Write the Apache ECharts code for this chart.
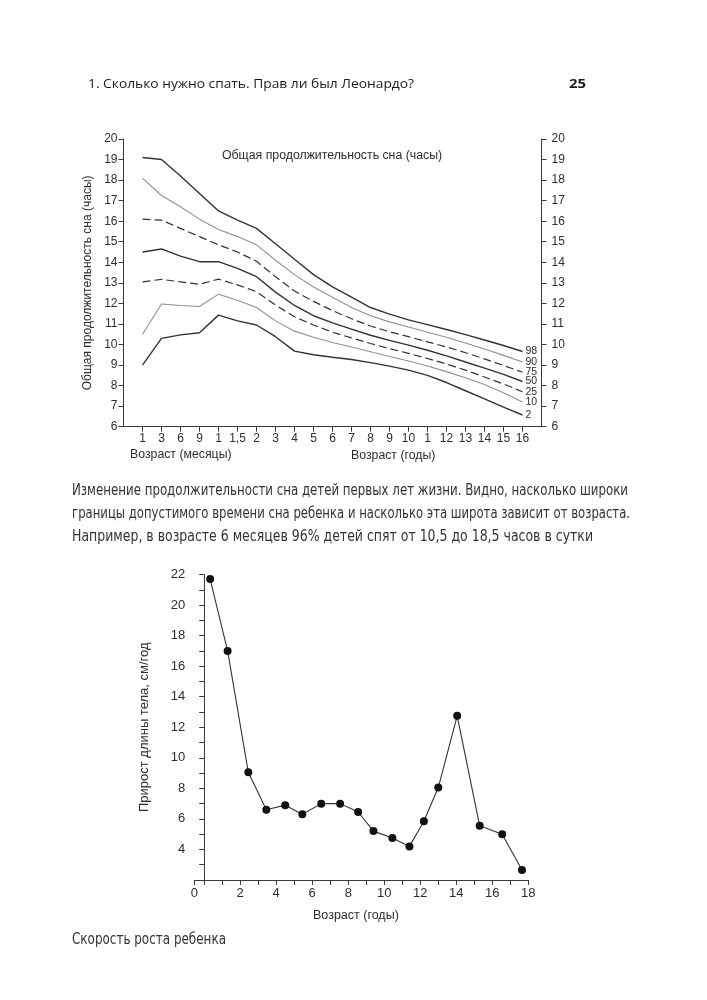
<!DOCTYPE html>
<html>
<head>
<meta charset="utf-8">
<script src="https://cdn.jsdelivr.net/npm/echarts@6/dist/echarts.min.js"></script>
<style>
  html, body { margin: 0; padding: 0; background: #fff; }
  #page { position: relative; width: 707px; height: 1000px; overflow: hidden; background: #fff; }
  #chart { position: absolute; left: 0; top: 0; width: 707px; height: 1000px; }
  .t { position: absolute; white-space: nowrap; transform-origin: 0 50%; line-height: 1; }
  .hdr { font-family: "Open Sans", "Noto Sans", sans-serif; font-size: 13px; color: #1a1a1a; }
  .cap { font-family: "Liberation Sans Narrow", "DejaVu Sans Condensed", "Roboto", sans-serif; font-stretch: condensed; font-size: 15px; color: #333; }
</style>
</head>
<body>
<div id="page">
  <div id="chart"></div>
  <div class="t hdr" data-w="326" style="left:88px; top:77px;">1. Сколько нужно спать. Прав ли был Леонардо?</div>
  <div class="t hdr" data-w="17" style="left:569px; top:77px; font-weight:bold;">25</div>
  <div class="t cap" data-w="556" style="left:72px; top:483px;">Изменение продолжительности сна детей первых лет жизни. Видно, насколько широки</div>
  <div class="t cap" data-w="558" style="left:72px; top:506px;">границы допустимого времени сна ребенка и насколько эта широта зависит от возраста.</div>
  <div class="t cap" data-w="521" style="left:72px; top:529px;">Например, в возрасте 6 месяцев 96% детей спят от 10,5 до 18,5 часов в сутки</div>
  <div class="t cap" data-w="154" style="left:72px; top:932px;">Скорость роста ребенка</div>
</div>
<script>
// ---------- Top chart data: total sleep duration percentiles (hours) ----------
const ageLabels = ['', '1', '3', '6', '9', '1', '1,5', '2', '3', '4', '5', '6', '7', '8', '9', '10', '1', '12', '13', '14', '15', '16', ''];
const p98 = [19.1, 19.0, 18.2, 17.35, 16.5, 16.05, 15.65, 14.9, 14.15, 13.4, 12.8, 12.3, 11.8, 11.48, 11.2, 10.97, 10.73, 10.48, 10.22, 9.95, 9.66];
const p90 = [18.1, 17.25, 16.7, 16.1, 15.6, 15.25, 14.85, 14.1, 13.4, 12.8, 12.3, 11.8, 11.4, 11.1, 10.85, 10.6, 10.35, 10.07, 9.78, 9.47, 9.15];
const p75 = [16.1, 16.05, 15.65, 15.25, 14.85, 14.5, 14.05, 13.3, 12.6, 12.1, 11.65, 11.25, 10.9, 10.62, 10.38, 10.13, 9.88, 9.6, 9.3, 8.98, 8.65];
const p50 = [14.5, 14.65, 14.3, 14.03, 14.03, 13.7, 13.3, 12.55, 11.9, 11.4, 11.05, 10.75, 10.45, 10.2, 9.97, 9.72, 9.45, 9.15, 8.85, 8.55, 8.2];
const p25 = [13.05, 13.17, 13.05, 12.93, 13.18, 12.9, 12.57, 11.92, 11.35, 10.95, 10.6, 10.32, 10.05, 9.8, 9.57, 9.32, 9.05, 8.75, 8.42, 8.08, 7.7];
const p10 = [10.5, 11.97, 11.9, 11.85, 12.45, 12.15, 11.8, 11.15, 10.65, 10.35, 10.1, 9.88, 9.65, 9.42, 9.2, 8.95, 8.68, 8.38, 8.05, 7.65, 7.2];
const p02 = [9.0, 10.3, 10.47, 10.57, 11.43, 11.15, 10.95, 10.38, 9.68, 9.5, 9.38, 9.27, 9.12, 8.95, 8.75, 8.5, 8.15, 7.75, 7.35, 6.95, 6.57];

// ---------- Bottom chart data: growth velocity (cm/year) ----------
const growthAge = [0.33, 1.3, 2.45, 3.45, 4.5, 5.45, 6.5, 7.55, 8.55, 9.4, 10.45, 11.4, 12.2, 13.0, 14.05, 15.3, 16.55, 17.65];
const growthRate = [21.7, 17.0, 9.05, 6.6, 6.9, 6.3, 7.0, 7.0, 6.45, 5.2, 4.75, 4.2, 5.85, 8.05, 12.75, 5.55, 5.0, 2.65];

const FONT = '"Liberation Sans", Arial, sans-serif';
const TXT = '#2e2e2e';
const AX = '#3a3a3a';
const DARK = '#333333';
const LIGHT = '#909090';

function pct(name, arr, color, width, dashed) {
  return {
    type: 'line', name: name, xAxisIndex: 0, yAxisIndex: 0,
    data: [null].concat(arr),
    symbol: 'none', smooth: false, silent: true,
    lineStyle: { color: color, width: width, type: dashed ? [8, 4] : 'solid' },
    endLabel: { show: true, formatter: name, fontSize: 10.5, color: TXT, fontFamily: FONT, distance: 3 }
  };
}

const chart = echarts.init(document.getElementById('chart'), null, { renderer: 'canvas' });
const axisCommon = {
  axisLine: { show: true, lineStyle: { color: AX, width: 1 } },
  axisTick: { show: true, inside: false, length: 5, lineStyle: { color: AX, width: 1 } },
  splitLine: { show: false }
};

chart.setOption({
  animation: false,
  backgroundColor: 'transparent',
  textStyle: { fontFamily: FONT },
  grid: [
    { left: 123.5, top: 139, width: 418, height: 287.7 },
    { left: 194.3, top: 574.5, width: 334, height: 305.5 }
  ],
  xAxis: [
    Object.assign({}, axisCommon, {
      gridIndex: 0, type: 'category', data: ageLabels, boundaryGap: false,
      axisTick: { show: true, length: 5, interval: function (i) { return i > 0 && i < ageLabels.length - 1; }, lineStyle: { color: AX } },
      axisLabel: { interval: 0, fontSize: 12, color: TXT, margin: 6, fontFamily: FONT }
    }),
    Object.assign({}, axisCommon, {
      gridIndex: 1, type: 'value', min: -0.55, max: 18, splitNumber: 18,
      axisLabel: {
        fontSize: 13, color: TXT, margin: 7, fontFamily: FONT, showMinLabel: true, showMaxLabel: true,
        formatter: function (v) { if (v < 0) return '0'; if (v > 0 && Math.abs(v % 2) < 1e-9) return String(v); return ''; }
      }
    })
  ],
  yAxis: [
    Object.assign({}, axisCommon, {
      gridIndex: 0, type: 'value', min: 6, max: 20, interval: 1, position: 'left',
      axisLabel: { fontSize: 12, color: TXT, margin: 6, fontFamily: FONT },
      name: 'Общая продолжительность сна (часы)', nameLocation: 'middle', nameRotate: 90, nameGap: 29,
      nameTextStyle: { fontSize: 12, color: TXT, fontFamily: FONT }
    }),
    Object.assign({}, axisCommon, {
      gridIndex: 0, type: 'value', min: 6, max: 20, interval: 1, position: 'right',
      axisLabel: { fontSize: 12, color: TXT, margin: 10, fontFamily: FONT }
    }),
    Object.assign({}, axisCommon, {
      gridIndex: 1, type: 'value', min: 2, max: 22, interval: 1,
      axisLabel: {
        fontSize: 13, color: TXT, margin: 9, fontFamily: FONT,
        formatter: function (v) { return (v > 2 && v % 2 === 0) ? String(v) : ''; }
      },
      name: 'Прирост длины тела, см/год', nameLocation: 'middle', nameRotate: 90, nameGap: 43,
      nameTextStyle: { fontSize: 13, color: TXT, fontFamily: FONT }
    })
  ],
  graphic: [
    { type: 'text', left: 222, top: 150, silent: true,
      style: { text: 'Общая продолжительность сна (часы)', fontSize: 12.3, fill: TXT, fontFamily: FONT } },
    { type: 'text', left: 130, top: 449, silent: true,
      style: { text: 'Возраст (месяцы)', fontSize: 12.3, fill: TXT, fontFamily: FONT } },
    { type: 'text', left: 351, top: 450, silent: true,
      style: { text: 'Возраст (годы)', fontSize: 12.3, fill: TXT, fontFamily: FONT } },
    { type: 'text', left: 313, top: 909, silent: true,
      style: { text: 'Возраст (годы)', fontSize: 12.5, fill: TXT, fontFamily: FONT } }
  ],
  series: [
    pct('98', p98, DARK, 1.4, false),
    pct('90', p90, LIGHT, 1.1, false),
    pct('75', p75, DARK, 1.2, true),
    pct('50', p50, DARK, 1.4, false),
    pct('25', p25, DARK, 1.2, true),
    pct('10', p10, LIGHT, 1.1, false),
    pct('2', p02, DARK, 1.4, false),
    {
      type: 'line', xAxisIndex: 1, yAxisIndex: 2, silent: true,
      data: growthAge.map(function (a, i) { return [a, growthRate[i]]; }),
      symbol: 'circle', symbolSize: 8,
      itemStyle: { color: '#111' },
      lineStyle: { color: '#333', width: 1.1 }
    }
  ]
});

// fit text lines to the widths measured on the reference
document.querySelectorAll('.t[data-w]').forEach(function (el) {
  var target = parseFloat(el.getAttribute('data-w'));
  var w = el.getBoundingClientRect().width;
  if (w > 0) el.style.transform = 'scaleX(' + (target / w) + ')';
});
</script>
</body>
</html>
